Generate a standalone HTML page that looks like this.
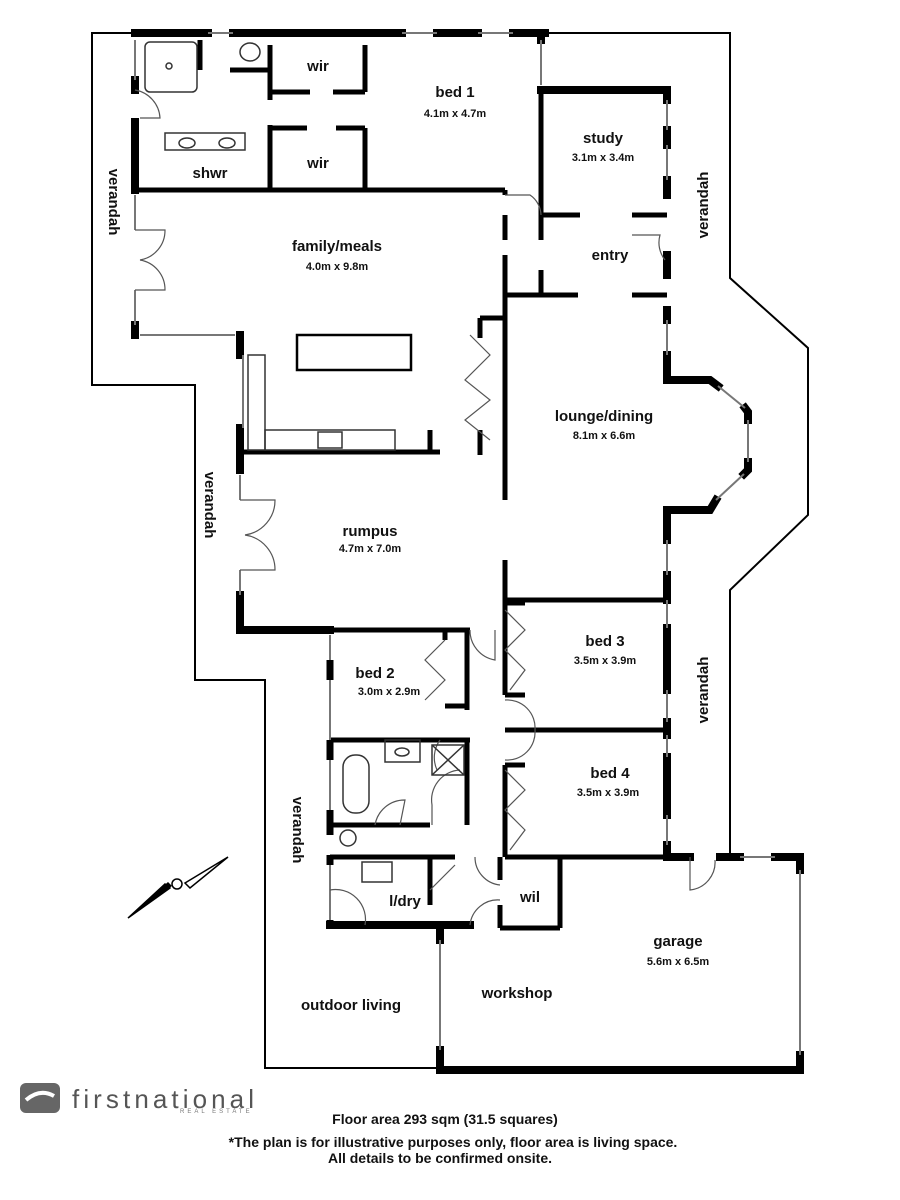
<!DOCTYPE html>
<html><head><style>
body{margin:0;background:#fff;}
svg{display:block;}
text{font-family:"Liberation Sans",Arial,sans-serif;font-weight:bold;fill:#111;}
.l{font-size:15px;}
.d{font-size:11px;}
</style></head><body>
<svg width="900" height="1200" viewBox="0 0 900 1200">
<polyline points="135,33 92,33 92,385 195,385 195,680 265,680 265,1068 440,1068" fill="none" stroke="#000" stroke-width="2"/>
<polyline points="545,33 730,33 730,278 808,348 808,515 730,590 730,857" fill="none" stroke="#000" stroke-width="2"/>
<g stroke="#000" stroke-width="8" fill="none" stroke-linecap="square">
<line x1="135" y1="33" x2="208" y2="33"/><line x1="233" y1="33" x2="402" y2="33"/>
<line x1="437" y1="33" x2="478" y2="33"/><line x1="513" y1="33" x2="545" y2="33"/>
<line x1="541" y1="33" x2="541" y2="40"/>
<line x1="135" y1="80" x2="135" y2="90"/><line x1="135" y1="122" x2="135" y2="190"/>
<line x1="135" y1="325" x2="135" y2="335"/>
<line x1="240" y1="335" x2="240" y2="355"/><line x1="240" y1="428" x2="240" y2="470"/>
<line x1="240" y1="595" x2="240" y2="630"/>
<line x1="240" y1="630" x2="330" y2="630"/>
<line x1="541" y1="90" x2="667" y2="90"/><line x1="667" y1="90" x2="667" y2="100"/>
<line x1="667" y1="130" x2="667" y2="145"/><line x1="667" y1="180" x2="667" y2="195"/>
<line x1="667" y1="255" x2="667" y2="275"/><line x1="667" y1="310" x2="667" y2="320"/>
<polyline points="667,355 667,380 710,380 718,386"/>
<polyline points="745,408 748,412 748,420"/>
<polyline points="748,462 748,470 744,474"/>
<polyline points="716,500 710,510 667,510 667,540"/>
<line x1="667" y1="575" x2="667" y2="600"/>
<line x1="667" y1="628" x2="667" y2="690"/><line x1="667" y1="722" x2="667" y2="735"/>
<line x1="667" y1="757" x2="667" y2="815"/><line x1="667" y1="845" x2="667" y2="857"/>
<line x1="667" y1="857" x2="690" y2="857"/><line x1="720" y1="857" x2="740" y2="857"/>
<line x1="775" y1="857" x2="800" y2="857"/><line x1="800" y1="857" x2="800" y2="870"/>
<line x1="800" y1="1055" x2="800" y2="1070"/>
<line x1="440" y1="1070" x2="800" y2="1070"/>
<line x1="440" y1="925" x2="440" y2="940"/><line x1="440" y1="1050" x2="440" y2="1070"/>
<line x1="330" y1="925" x2="470" y2="925"/>
</g>
<g stroke="#000" stroke-width="5" fill="none">
<line x1="135" y1="190" x2="505" y2="190"/>
<line x1="505" y1="190" x2="505" y2="195"/><line x1="505" y1="215" x2="505" y2="240"/>
<line x1="270" y1="45" x2="270" y2="100"/><line x1="270" y1="125" x2="270" y2="190"/>
<line x1="365" y1="45" x2="365" y2="92"/><line x1="365" y1="128" x2="365" y2="190"/>
<line x1="272" y1="92" x2="310" y2="92"/><line x1="333" y1="92" x2="365" y2="92"/>
<line x1="272" y1="128" x2="307" y2="128"/><line x1="336" y1="128" x2="365" y2="128"/>
<line x1="200" y1="40" x2="200" y2="70"/><line x1="230" y1="70" x2="270" y2="70"/>
<line x1="541" y1="90" x2="541" y2="240"/>
<line x1="541" y1="215" x2="580" y2="215"/><line x1="632" y1="215" x2="667" y2="215"/>
<line x1="505" y1="255" x2="505" y2="500"/><line x1="541" y1="270" x2="541" y2="295"/>
<line x1="505" y1="295" x2="578" y2="295"/><line x1="632" y1="295" x2="667" y2="295"/>
<line x1="480" y1="318" x2="505" y2="318"/><line x1="480" y1="318" x2="480" y2="338"/>
<line x1="480" y1="430" x2="480" y2="455"/>
<line x1="240" y1="452" x2="440" y2="452"/><line x1="430" y1="430" x2="430" y2="452"/>
<line x1="505" y1="560" x2="505" y2="695"/>
<line x1="505" y1="600" x2="667" y2="600"/>
<line x1="505" y1="695" x2="525" y2="695"/><line x1="505" y1="603" x2="525" y2="603"/>
<line x1="505" y1="730" x2="667" y2="730"/>
<line x1="505" y1="765" x2="525" y2="765"/><line x1="505" y1="765" x2="505" y2="857"/>
<line x1="505" y1="857" x2="667" y2="857"/>
<line x1="330" y1="630" x2="470" y2="630"/><line x1="467" y1="630" x2="467" y2="710"/>
<line x1="445" y1="706" x2="467" y2="706"/><line x1="445" y1="630" x2="445" y2="640"/>
<line x1="330" y1="740" x2="470" y2="740"/><line x1="467" y1="740" x2="467" y2="825"/>
<line x1="330" y1="825" x2="430" y2="825"/>
<line x1="330" y1="857" x2="455" y2="857"/><line x1="430" y1="857" x2="430" y2="905"/>
<line x1="500" y1="857" x2="500" y2="880"/><line x1="500" y1="905" x2="500" y2="928"/>
<line x1="500" y1="928" x2="560" y2="928"/><line x1="560" y1="857" x2="560" y2="928"/>
</g>
<g stroke="#000" stroke-width="7">
<line x1="330" y1="660" x2="330" y2="680"/><line x1="330" y1="740" x2="330" y2="760"/>
<line x1="330" y1="810" x2="330" y2="835"/><line x1="330" y1="855" x2="330" y2="865"/>
<line x1="330" y1="920" x2="330" y2="928"/>
</g>
<g stroke="#777" stroke-width="2" fill="none">
<line x1="208" y1="33" x2="233" y2="33"/><line x1="402" y1="33" x2="437" y2="33"/><line x1="478" y1="33" x2="513" y2="33"/>
<line x1="541" y1="40" x2="541" y2="85"/>
<line x1="135" y1="40" x2="135" y2="80"/><line x1="135" y1="195" x2="135" y2="230"/><line x1="135" y1="290" x2="135" y2="325"/>
<line x1="140" y1="335" x2="235" y2="335"/><line x1="243" y1="355" x2="243" y2="428"/>
<line x1="240" y1="475" x2="240" y2="500"/><line x1="240" y1="570" x2="240" y2="595"/>
<line x1="667" y1="100" x2="667" y2="130"/><line x1="667" y1="145" x2="667" y2="180"/><line x1="667" y1="320" x2="667" y2="355"/>
<line x1="718" y1="386" x2="745" y2="408"/><line x1="748" y1="420" x2="748" y2="462"/><line x1="744" y1="474" x2="716" y2="500"/>
<line x1="667" y1="540" x2="667" y2="575"/><line x1="667" y1="600" x2="667" y2="628"/><line x1="667" y1="690" x2="667" y2="722"/>
<line x1="667" y1="735" x2="667" y2="757"/><line x1="667" y1="815" x2="667" y2="845"/>
<line x1="740" y1="857" x2="775" y2="857"/><line x1="800" y1="870" x2="800" y2="1055"/><line x1="440" y1="940" x2="440" y2="1050"/>
<line x1="330" y1="635" x2="330" y2="660"/><line x1="330" y1="680" x2="330" y2="740"/><line x1="330" y1="760" x2="330" y2="810"/>
<line x1="330" y1="865" x2="330" y2="920"/>
</g>
<g stroke="#555" stroke-width="1.2" fill="none">
<path d="M135 90 A30 30 0 0 1 160 118 L140 118"/>
<path d="M505 195 L530 195 A25 25 0 0 1 541 215"/>
<path d="M632 235 L660 235 A28 28 0 0 0 665 260"/>
<path d="M135 230 L165 230 A30 30 0 0 1 140 260"/><path d="M135 290 L165 290 A30 30 0 0 0 140 260"/>
<path d="M240 500 L275 500 A35 35 0 0 1 245 535"/><path d="M240 570 L275 570 A35 35 0 0 0 245 535"/>
<path d="M470 335 L490 355 L465 380 L490 400 L465 420 L490 440"/>
<path d="M505 610 L525 630 L505 650 L525 670 L510 690"/>
<path d="M505 770 L525 790 L505 810 L525 830 L510 850"/>
<path d="M445 640 L425 660 L445 680 L425 700"/>
<path d="M470 630 A30 30 0 0 0 495 660 L495 630"/>
<path d="M505 700 A28 28 0 0 1 535 730"/><path d="M505 760 A28 28 0 0 0 535 730"/>
<path d="M440 740 A30 30 0 0 0 437 770"/><path d="M460 770 A30 30 0 0 0 432 805 L432 825"/>
<path d="M375 825 A30 30 0 0 1 405 800 L400 825"/>
<path d="M330 890 A30 30 0 0 1 365 925"/>
<path d="M470 925 A28 28 0 0 1 500 900"/><path d="M475 857 A28 28 0 0 0 500 885"/>
<path d="M690 857 L690 890 A28 28 0 0 0 715 860"/>
<path d="M430 890 L455 865"/>
</g>
<g stroke="#333" stroke-width="1.5" fill="none">
<rect x="145" y="42" width="52" height="50" rx="5"/><circle cx="169" cy="66" r="3"/>
<rect x="165" y="133" width="80" height="17"/><ellipse cx="187" cy="143" rx="8" ry="5"/><ellipse cx="227" cy="143" rx="8" ry="5"/>
<ellipse cx="250" cy="52" rx="10" ry="9"/>
<rect x="297" y="335" width="114" height="35" stroke="#000" stroke-width="2.5"/>
<rect x="265" y="430" width="130" height="20"/><rect x="248" y="355" width="17" height="95"/>
<rect x="318" y="432" width="24" height="16"/>
<rect x="343" y="755" width="26" height="58" rx="12"/>
<rect x="385" y="740" width="35" height="22"/><ellipse cx="402" cy="752" rx="7" ry="4"/>
<rect x="432" y="745" width="32" height="30"/><line x1="432" y1="745" x2="464" y2="775"/><line x1="464" y1="745" x2="432" y2="775"/>
<ellipse cx="348" cy="838" rx="8" ry="8"/>
<rect x="362" y="862" width="30" height="20"/>
</g>
<g fill="none" stroke="#000" stroke-width="1.5">
<polygon points="128,918 170,888 165,884"/>
<polygon points="228,857 185,883 190,888"/>
<circle cx="177" cy="884" r="5"/>
</g>
<polygon points="128,918 172,886 168,882" fill="#000"/>
<g text-anchor="middle">
<text x="455" y="97" class="l">bed 1</text><text x="455" y="117" class="d">4.1m x 4.7m</text>
<text x="318" y="71" class="l">wir</text><text x="318" y="168" class="l">wir</text>
<text x="210" y="178" class="l">shwr</text>
<text x="603" y="143" class="l">study</text><text x="603" y="161" class="d">3.1m x 3.4m</text>
<text x="610" y="260" class="l">entry</text>
<text x="337" y="251" class="l">family/meals</text><text x="337" y="270" class="d">4.0m x 9.8m</text>
<text x="604" y="421" class="l">lounge/dining</text><text x="604" y="439" class="d">8.1m x 6.6m</text>
<text x="370" y="536" class="l">rumpus</text><text x="370" y="552" class="d">4.7m x 7.0m</text>
<text x="375" y="678" class="l">bed 2</text><text x="389" y="695" class="d">3.0m x 2.9m</text>
<text x="605" y="646" class="l">bed 3</text><text x="605" y="664" class="d">3.5m x 3.9m</text>
<text x="610" y="778" class="l">bed 4</text><text x="608" y="796" class="d">3.5m x 3.9m</text>
<text x="405" y="906" class="l">l/dry</text><text x="530" y="902" class="l">wil</text>
<text x="678" y="946" class="l">garage</text><text x="678" y="965" class="d">5.6m x 6.5m</text>
<text x="517" y="998" class="l">workshop</text><text x="351" y="1010" class="l">outdoor living</text>
<text transform="translate(109,202) rotate(90)" class="l">verandah</text>
<text transform="translate(205,505) rotate(90)" class="l">verandah</text>
<text transform="translate(293,830) rotate(90)" class="l">verandah</text>
<text transform="translate(708,205) rotate(-90)" class="l">verandah</text>
<text transform="translate(708,690) rotate(-90)" class="l">verandah</text>
<text x="445" y="1124" style="font-size:14px">Floor area 293 sqm (31.5 squares)</text>
<text x="453" y="1147" style="font-size:14px">*The plan is for illustrative purposes only, floor area is living space.</text>
<text x="440" y="1163" style="font-size:14px">All details to be confirmed onsite.</text>
</g>
<rect x="20" y="1083" width="40" height="30" rx="6" fill="#666"/>
<path d="M26 1100 Q40 1088 54 1096" stroke="#fff" stroke-width="4" fill="none"/>
<text x="72" y="1108" style="font-size:26px;font-weight:normal;fill:#555" textLength="182">firstnational</text>
<text x="180" y="1113" style="font-size:6px;font-weight:normal;fill:#777;letter-spacing:3px">REAL ESTATE</text>
</svg>
</body></html>
